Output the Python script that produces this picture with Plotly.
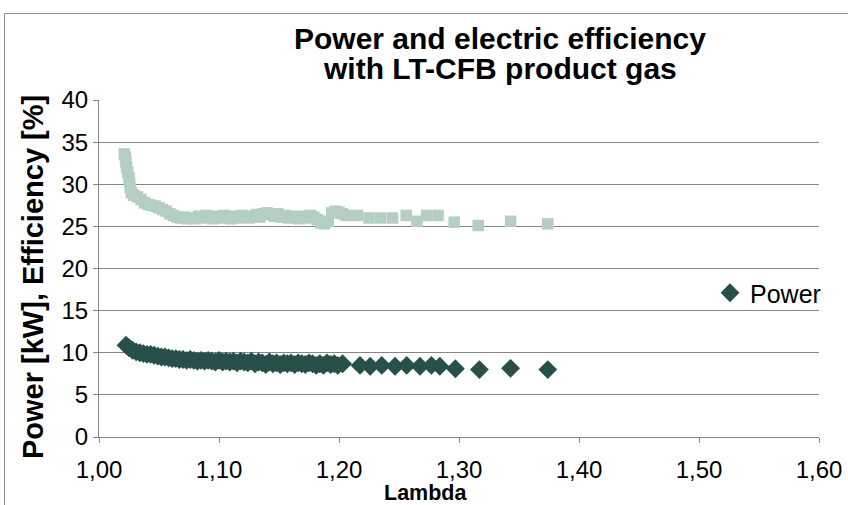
import plotly.graph_objects as go

# Electric efficiency [%] versus air ratio lambda
eff_lambda = [1.021, 1.022, 1.0225, 1.023, 1.024, 1.025, 1.0255, 1.026, 1.027, 1.029,
              1.032, 1.035, 1.038, 1.041, 1.044, 1.047, 1.050, 1.053, 1.056, 1.059,
              1.062, 1.065, 1.068, 1.071, 1.074, 1.077, 1.080, 1.083, 1.086, 1.089,
              1.092, 1.095, 1.098, 1.101, 1.104, 1.107, 1.110, 1.113, 1.116, 1.119,
              1.122, 1.125, 1.128, 1.131, 1.134, 1.137, 1.140, 1.143, 1.146, 1.149,
              1.152, 1.155, 1.158, 1.161, 1.164, 1.167, 1.170, 1.173, 1.176, 1.179,
              1.182, 1.185, 1.188, 1.191, 1.194, 1.197, 1.200, 1.203, 1.206, 1.2154,
              1.225, 1.2348, 1.2446, 1.256, 1.265, 1.273, 1.2825, 1.296, 1.316, 1.343,
              1.374]
eff_value = [33.6, 33.2, 32.6, 32.0, 31.4, 30.8, 30.2, 29.6, 29.0, 28.7,
             28.5, 28.2, 27.8, 27.6, 27.5, 27.4, 27.2, 27.0, 26.8, 26.5,
             26.3, 26.1, 26.0, 26.1, 25.9, 26.0, 25.9, 26.2, 26.0, 26.3,
             26.1, 25.9, 26.2, 26.0, 26.3, 26.1, 25.9, 26.2, 26.0, 26.3,
             26.1, 26.0, 26.2, 26.4, 26.1, 26.5, 26.6, 26.4, 26.2, 26.5,
             26.1, 26.3, 26.0, 26.2, 26.1, 25.9, 26.2, 26.0, 26.3, 26.1,
             25.8, 25.4, 25.3, 25.6, 26.6, 26.8, 26.7, 26.5, 26.3, 26.3,
             26.0, 26.0, 26.0, 26.3, 25.6, 26.3, 26.3, 25.5, 25.1, 25.6,
             25.3]

# Electric power [kW] versus air ratio lambda
pow_lambda = [1.0225, 1.025, 1.028, 1.031, 1.034, 1.037, 1.040, 1.043, 1.046, 1.049,
              1.052, 1.055, 1.058, 1.061, 1.064, 1.067, 1.070, 1.073, 1.076, 1.079,
              1.082, 1.085, 1.088, 1.091, 1.094, 1.097, 1.100, 1.103, 1.106, 1.109,
              1.112, 1.115, 1.118, 1.121, 1.124, 1.127, 1.130, 1.133, 1.136, 1.139,
              1.142, 1.145, 1.148, 1.151, 1.154, 1.157, 1.160, 1.163, 1.166, 1.169,
              1.172, 1.175, 1.178, 1.181, 1.184, 1.187, 1.190, 1.193, 1.196, 1.199,
              1.203, 1.2175, 1.226, 1.2356, 1.2467, 1.2564, 1.2675, 1.277, 1.284, 1.297,
              1.317, 1.343, 1.374]
pow_value = [10.9, 10.6, 10.3, 10.1, 10.0, 9.9, 9.8, 9.8, 9.7, 9.6,
             9.5, 9.5, 9.4, 9.3, 9.3, 9.2, 9.2, 9.1, 9.2, 9.1,
             9.0, 9.1, 9.0, 9.1, 9.0, 8.9, 9.1, 8.9, 9.0, 8.9,
             9.0, 8.8, 9.0, 8.9, 8.8, 9.0, 8.7, 8.9, 8.8, 8.6,
             8.9, 8.7, 8.8, 8.6, 8.8, 8.7, 8.8, 8.6, 8.8, 8.7,
             8.6, 8.8, 8.7, 8.5, 8.7, 8.5, 8.8, 8.6, 8.7, 8.5,
             8.7, 8.5, 8.4, 8.5, 8.4, 8.5, 8.4, 8.5, 8.4, 8.1,
             8.0, 8.15, 8.0]

x_ticks = [1.0, 1.1, 1.2, 1.3, 1.4, 1.5, 1.6]
y_ticks = [0, 5, 10, 15, 20, 25, 30, 35, 40]

title_lines = ["Power and electric efficiency", "with LT-CFB product gas"]

FONT = "Liberation Sans, Arial, sans-serif"
GRID = "#868686"
W, H = 848, 505

# plot-area geometry in pixels, used to place annotations
L, R, T, B = 99, 819, 100, 437


def px_x(p):
    return (p - L) / (R - L)


def px_y(p):
    return (B - p) / (B - T)


fig = go.Figure()
fig.add_trace(go.Scatter(
    x=eff_lambda, y=eff_value, mode="markers", name="Efficiency",
    showlegend=False,
    marker=dict(symbol="square", size=11.5, color="#B4CFC2", line=dict(width=0)),
))
fig.add_trace(go.Scatter(
    x=pow_lambda, y=pow_value, mode="markers", name="Power",
    marker=dict(symbol="diamond", size=14.5, color="#27504A", line=dict(width=0)),
))

fig.update_layout(
    width=W, height=H,
    margin=dict(l=L, r=W - R, t=T, b=H - B, autoexpand=False),
    paper_bgcolor="white", plot_bgcolor="white",
    separators=",.",
    font=dict(family=FONT, size=24, color="black"),
    xaxis=dict(
        range=[1.0, 1.6], tickvals=x_ticks, tickformat=".2f",
        showgrid=False, zeroline=False, automargin=False,
        showline=True, linecolor=GRID, linewidth=1,
        ticks="outside", ticklen=5, tickcolor=GRID,
        tickfont=dict(size=24), ticklabelstandoff=6,
    ),
    yaxis=dict(
        range=[0, 40], tickvals=y_ticks,
        showgrid=True, gridcolor=GRID, gridwidth=1, zeroline=False,
        automargin=False,
        showline=True, linecolor=GRID, linewidth=1,
        ticks="outside", ticklen=5, tickcolor=GRID,
        tickfont=dict(size=24),
    ),
    legend=dict(
        x=px_x(710), y=px_y(293), xanchor="left", yanchor="middle",
        bgcolor="rgba(0,0,0,0)", font=dict(size=25), itemwidth=30,
    ),
)

# two-line chart title, tightly spaced
for text, py in zip(title_lines, [38, 68]):
    fig.add_annotation(
        text=f"<b>{text}</b>", x=px_x(500), y=px_y(py),
        xref="paper", yref="paper", showarrow=False,
        font=dict(size=30), xanchor="center", yanchor="middle",
    )

# axis titles
fig.add_annotation(
    text="<b>Power [kW], Efficiency [%]</b>", textangle=-90,
    x=px_x(33), y=px_y(277), xref="paper", yref="paper",
    showarrow=False, font=dict(size=29), xanchor="center", yanchor="middle",
)
fig.add_annotation(
    text="<b>Lambda</b>",
    x=px_x(425), y=px_y(493), xref="paper", yref="paper",
    showarrow=False, font=dict(size=21.5), xanchor="center", yanchor="middle",
)

# outer chart frame (left and top edges)
left = px_x(4.5)
top = px_y(13.5)
fig.add_shape(type="line", xref="paper", yref="paper",
              x0=left, x1=left, y0=-0.3, y1=top,
              line=dict(color="#8C8C8C", width=1))
fig.add_shape(type="line", xref="paper", yref="paper",
              x0=left, x1=1.1, y0=top, y1=top,
              line=dict(color="#8C8C8C", width=1))

fig.write_html("out.html")
